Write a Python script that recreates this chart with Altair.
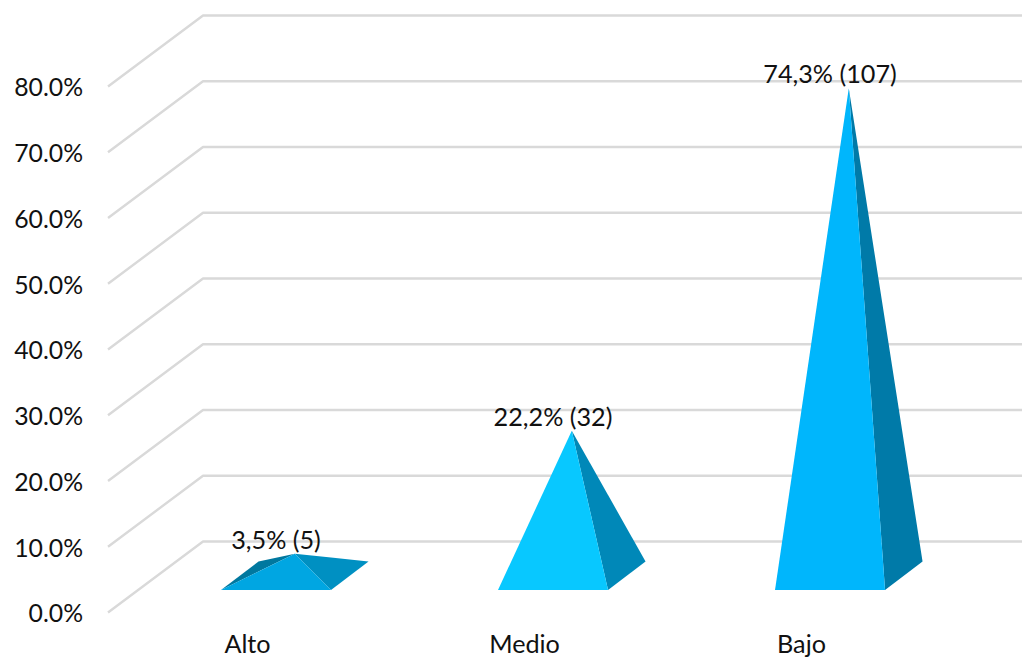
import altair as alt
import pandas as pd

# Chart values
categories = ["Alto", "Medio", "Bajo"]
percent_values = [3.5, 22.2, 74.3]
value_labels = ["3,5% (5)", "22,2% (32)", "74,3% (107)"]
ticks = [0, 10, 20, 30, 40, 50, 60, 70, 80]
tick_labels = ["0.0%", "10.0%", "20.0%", "30.0%", "40.0%", "50.0%", "60.0%", "70.0%", "80.0%"]

# Face colours: front, right side, and the left side where it shows
front_colors = ["#00A6E2", "#08C8FF", "#00B6FC"]
right_colors = ["#0090C2", "#0088B8", "#007AA8"]
left_color = "#00789F"

WIDTH, HEIGHT = 1022, 659
FONT = "Lato"
FONT_SIZE = 25.2

# Oblique projection, in scale units: x in category steps, y in percent
X_DOMAIN = [-0.9964, 2.693]
Y_DOMAIN = [-17.87, 82.36]
WALL_FRONT_X, WALL_BACK_X = -0.6065, -0.2635
WALL_DROP = 10.8
HALF_BASE = 0.1986
DEPTH_X = 0.1354
BASE_FRONT, BASE_BACK = -7.376, -3.04
APEX_BASE = (BASE_FRONT + BASE_BACK) / 2 - 0.15

x_scale = alt.Scale(domain=X_DOMAIN, range=[0, WIDTH], nice=False, zero=False)
y_scale = alt.Scale(domain=Y_DOMAIN, range=[HEIGHT, 0], nice=False, zero=False)
x_enc = alt.X("x:Q", scale=x_scale, axis=None)
y_enc = alt.Y("y:Q", scale=y_scale, axis=None)


def face_chart(color, vertices):
    """Fill a convex polygon as an area: upper and lower edge at each vertex x."""
    edges = list(zip(vertices, vertices[1:] + vertices[:1]))
    rows = []
    for x in sorted({v[0] for v in vertices}):
        hits = []
        for (x0, y0), (x1, y1) in edges:
            if x0 == x1:
                if x0 == x:
                    hits += [y0, y1]
            elif min(x0, x1) <= x <= max(x0, x1):
                hits.append(y0 + (y1 - y0) * (x - x0) / (x1 - x0))
        rows.append({"x": x, "y": max(hits), "low": min(hits)})
    return (
        alt.Chart(pd.DataFrame(rows))
        .mark_area(color=color, opacity=1)
        .encode(x=x_enc, y=y_enc, y2=alt.Y2("low:Q"))
    )


face_layers = []
for i, value in enumerate(percent_values):
    left, right = i - HALF_BASE, i + HALF_BASE
    apex = (i + DEPTH_X / 2, APEX_BASE + value)
    front_l, front_r = (left, BASE_FRONT), (right, BASE_FRONT)
    back_l, back_r = (left + DEPTH_X, BASE_BACK), (right + DEPTH_X, BASE_BACK)
    # The left side only peeks out on the lowest pyramid
    if value < 10:
        face_layers.append(face_chart(left_color, [front_l, back_l, apex]))
    face_layers.append(face_chart(right_colors[i], [apex, front_r, back_r]))
    face_layers.append(face_chart(front_colors[i], [front_l, apex, front_r]))

grid = pd.DataFrame(
    [
        {"tick": t, "step": n, "x": x, "y": y}
        for t in ticks
        for n, (x, y) in enumerate(
            [(WALL_FRONT_X, t - WALL_DROP), (WALL_BACK_X, t), (X_DOMAIN[1], t)]
        )
    ]
)

grid_layer = (
    alt.Chart(grid)
    .mark_line(color="#D9D9D9", strokeWidth=2.4, strokeJoin="round")
    .encode(x=x_enc, y=y_enc, detail="tick:N", order="step:Q")
)

tick_text = pd.DataFrame({"x": [-0.6965] * len(ticks), "y": [t - 12.3 for t in ticks], "label": tick_labels})
tick_layer = (
    alt.Chart(tick_text)
    .mark_text(align="right", baseline="alphabetic", font=FONT, fontSize=FONT_SIZE - 0.4, color="#111111")
    .encode(x=x_enc, y=y_enc, text="label:N")
)

value_text = pd.DataFrame(
    {
        "x": list(range(len(percent_values))),
        "y": [APEX_BASE + v for v in percent_values],
        "label": value_labels,
    }
)
value_layer = (
    alt.Chart(value_text)
    .mark_text(align="center", baseline="alphabetic", dy=-5, font=FONT, fontSize=FONT_SIZE, color="#111111")
    .encode(x=x_enc, y=y_enc, text="label:N")
)

category_text = pd.DataFrame(
    {"x": [i - 0.103 for i in range(len(categories))], "y": [-17.0] * len(categories), "label": categories}
)
category_layer = (
    alt.Chart(category_text)
    .mark_text(align="center", baseline="alphabetic", font=FONT, fontSize=FONT_SIZE, color="#111111")
    .encode(x=x_enc, y=y_enc, text="label:N")
)

chart = (
    alt.layer(grid_layer, *face_layers, tick_layer, value_layer, category_layer)
    .properties(width=WIDTH, height=HEIGHT, padding=0, autosize=alt.AutoSizeParams(type="none"), background="white")
    .configure_view(stroke=None)
)

chart.save("out.html", embed_options={"renderer": "svg", "actions": False})
